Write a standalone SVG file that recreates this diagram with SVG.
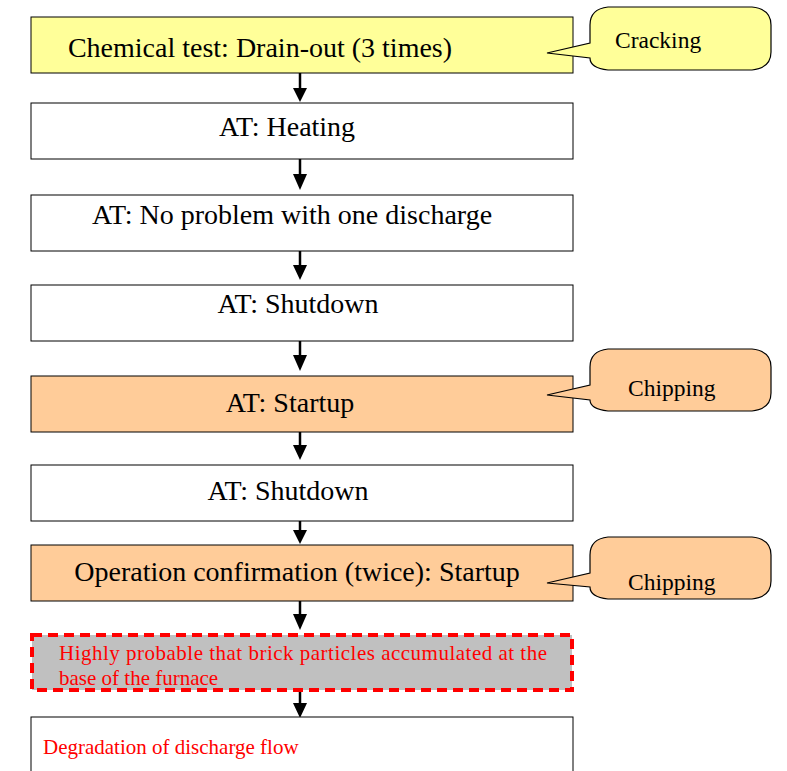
<svg xmlns="http://www.w3.org/2000/svg" width="787" height="771" viewBox="0 0 787 771">
<defs>
<style>
.box{stroke:#000;stroke-width:1}
.w{fill:#fff}.y{fill:#ffff99}.o{fill:#ffcc99}
.t{font-family:"Liberation Serif","Times New Roman",serif;font-size:28px;fill:#000;text-anchor:middle}
.ct{font-family:"Liberation Serif","Times New Roman",serif;font-size:23.5px;fill:#000}
.rt{font-family:"Liberation Serif","Times New Roman",serif;font-size:21px;fill:#ff0000}
.conn{stroke:#000;stroke-width:2.5;fill:none}
.call{stroke:#000;stroke-width:1.2}
</style>
</defs>
<rect width="787" height="771" fill="#fff"/>
<g id="connectors">
<g class="arrow"><line class="conn" x1="300" y1="73" x2="300" y2="89"/><polygon points="293,88 307,88 300,102"/></g>
<g class="arrow"><line class="conn" x1="300" y1="159" x2="300" y2="175"/><polygon points="293,174 307,174 300,190"/></g>
<g class="arrow"><line class="conn" x1="300" y1="251" x2="300" y2="266"/><polygon points="293,265 307,265 300,280"/></g>
<g class="arrow"><line class="conn" x1="300" y1="341" x2="300" y2="356"/><polygon points="293,355 307,355 300,371"/></g>
<g class="arrow"><line class="conn" x1="300" y1="432" x2="300" y2="446"/><polygon points="293,445 307,445 300,460"/></g>
<g class="arrow"><line class="conn" x1="300" y1="521" x2="300" y2="531"/><polygon points="293,530 307,530 300,544"/></g>
<g class="arrow"><line class="conn" x1="300" y1="601" x2="300" y2="615"/><polygon points="293,614 307,614 300,630"/></g>
<g class="arrow"><line class="conn" x1="300" y1="690" x2="300" y2="704"/><polygon points="293,703 307,703 300,718"/></g>
</g>
<g id="n1"><rect class="box y" x="31" y="17" width="542" height="56"/><text class="t" x="260" y="57">Chemical test: Drain-out (3 times)</text></g>
<g id="n2"><rect class="box w" x="31" y="103" width="542" height="56"/><text class="t" x="287" y="136">AT: Heating</text></g>
<g id="n3"><rect class="box w" x="31" y="195" width="542" height="56"/><text class="t" x="292" y="224">AT: No problem with one discharge</text></g>
<g id="n4"><rect class="box w" x="31" y="285" width="542" height="56"/><text class="t" x="298" y="313">AT: Shutdown</text></g>
<g id="n5"><rect class="box o" x="31" y="376" width="542" height="56"/><text class="t" x="290" y="412">AT: Startup</text></g>
<g id="n6"><rect class="box w" x="31" y="465" width="542" height="56"/><text class="t" x="288" y="500">AT: Shutdown</text></g>
<g id="n7"><rect class="box o" x="31" y="545" width="542" height="56"/><text class="t" x="297" y="581">Operation confirmation (twice): Startup</text></g>
<g id="n8"><rect x="32" y="635" width="540" height="55" fill="#c0c0c0" stroke="#ff0000" stroke-width="4" stroke-dasharray="10,6"/><text class="rt" x="59" y="660" textLength="488" lengthAdjust="spacing">Highly probable that brick particles accumulated at the</text><text class="rt" x="59" y="685">base of the furnace</text></g>
<g id="n9"><rect class="box w" x="31" y="717" width="542" height="60"/><text class="rt" x="43" y="754">Degradation of discharge flow</text></g>
<g id="c1"><path class="call y" d="M608,7 L752,7 Q771,9 771,25 L771,52 Q771,68 752,70 L608,70 Q590,68 590,58 L547,53 L590,43 L590,25 Q590,9 608,7 Z"/><text class="ct" x="615" y="48">Cracking</text></g>
<g id="c2"><path class="call o" d="M608,349 L752,349 Q771,351 771,367 L771,393 Q771,409 752,411 L608,411 Q590,409 590,400 L547,395 L590,385 L590,367 Q590,351 608,349 Z"/><text class="ct" x="628" y="396">Chipping</text></g>
<g id="c3"><path class="call o" d="M608,537 L752,537 Q771,539 771,555 L771,581 Q771,597 752,599 L608,599 Q590,597 590,587 L547,583 L590,573 L590,555 Q590,539 608,537 Z"/><text class="ct" x="628" y="590">Chipping</text></g>
</svg>
